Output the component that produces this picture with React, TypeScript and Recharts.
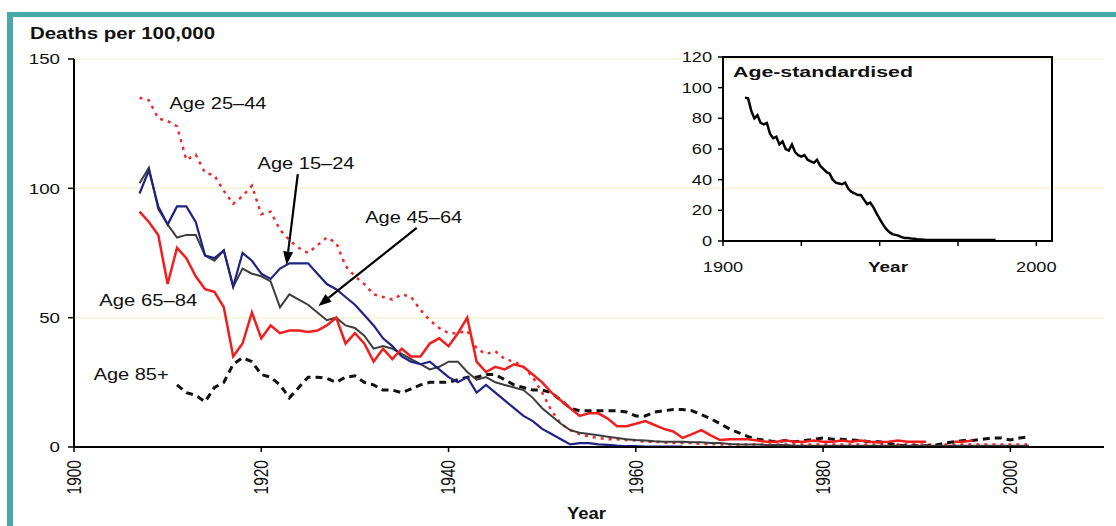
import React from "react";
import {
  LineChart,
  Line,
  XAxis,
  YAxis,
  CartesianGrid,
  ReferenceLine,
  ReferenceDot,
  ReferenceArea,
} from "recharts";

const FONT = '"Liberation Sans", Arial, sans-serif';
const TEAL = "#4aa8a8";

// main chart: yearly rates, 1907-2002
const START_YEAR = 1907;

const age15_24 = [
  98, 107, 93, 86, 93, 93, 87, 74, 73, 76,
  62, 75, 72, 67, 65, 69, 71, 71, 71, 67,
  63, 61, 58, 55, 51, 47, 42, 39, 35, 33,
  32, 33, 30, 27, 25, 27, 21, 24, 21, 18,
  15, 12, 10, 7, 5, 3, 1, 1.5, 1.5, 1,
  0.8, 0.5, 0.3, 0.3, 0.2, 0.2, 0.2, 0.2, 0.2, null,
  null, null, null, null, null, null, null, null, null, null,
  null, null, null, null, null, null, null, null, null, null,
  null, null, null, null, null, null, null, null, null, null,
  null, null, null, null, null, null,
];

const age25_44 = [
  135, 134, 127, 126, 124, 111, 113, 106, 105, 99,
  94, 97, 101, 90, 91, 84, 80, 77, 75, 78,
  81, 79, 70, 66, 63, 59, 58, 57, 59, 58,
  53, 49, 46, 44, 44, 45, 38, 36, 37, 34,
  33, 31, 27, 21, 14, 9, 6.5, 5, 4, 3.5,
  3, 3, 2.7, 2.5, 2, 2, 1.8, 1.5, 1.5, 1.5,
  1.2, 1.2, 1, 1, 1, 1, 1, 1, 1, 1,
  1, 1, 1, 1, 1, 1, 1, 1, 1, 1,
  1, 1, 1, 1, 1, 1, 1, 1, 1, 1,
  1, 1, 1, 1, 1, 1,
];

const age45_64 = [
  102, 108, 92, 86, 81, 82, 82, 74, 72, 76,
  62, 69, 67, 66, 64, 54, 59, 57, 55, 52,
  49, 50, 47, 46, 43, 38, 39, 38, 36, 34,
  32, 30, 31, 33, 33, 29, 26, 27, 25, 24,
  23, 22, 19, 15, 12, 9, 6.5, 5.5, 5, 4.5,
  4, 3.5, 3, 2.7, 2.5, 2.2, 2, 2, 2, 1.8,
  1.8, 1.5, 1.5, 1.2, 1, 1, 1, 0.8, 0.8, 0.8,
  0.5, 0.5, 0.5, 0.5, 0.5, 0.5, 0.5, 0.5, 0.5, 0.5,
  0.5, 0.5, 0.5, 0.5, 0.5, 0.5, 0.5, 0.5, 0.5, 0.5,
  0.5, 0.5, 0.5, 0.5, 0.5, 0.5,
];

const age65_84 = [
  91, 87, 82, 63, 77, 73, 66, 61, 60, 54,
  35, 40, 52, 42, 47, 44, 45, 45, 44.5, 45,
  47, 50, 40, 44, 40, 33, 38, 34, 38, 35,
  35, 40, 42, 39, 44, 50, 33, 29, 31, 30,
  32, 31, 28, 25, 21, 18, 15, 12, 13, 13,
  11, 8, 8, 9, 10, 8.5, 7, 6, 3.5, 5,
  6.5, 4.5, 2.7, 3, 3, 3, 2.5, 2, 2, 2.5,
  2, 2, 2.5, 2, 2, 2.5, 2, 2.5, 2, 1.8,
  2, 2.5, 2, 2, 2, null, null, 2, 2, 2.5,
  null, null, null, null, null, null,
];

const age85plus = [
  null, null, null, null, 24, 21, 20, 17.5, 23, 25,
  32, 34.5, 33, 28, 27, 24, 19, 23, 27, 27,
  26.5, 25, 27, 27.5, 25, 24, 22, 22, 21, 22.5,
  24, 25, 25, 25, 26, 27, 27, 28, 28, 26,
  24, 23, 22, 22, 21, 18, 15, 14, 14, 14,
  14, 14, 13.5, 12, 12, 13.5, 14, 14.5, 14.5, 14,
  12.5, 11, 9, 7, 5.5, 4, 3, 2.5, 2, 2.5,
  2, 2.5, 3, 3.5, 3, 3, 2.7, 2.5, 2, 2,
  1.5, 0.7, 0.5, 0.5, 0.5, 0.7, 1.5, 2, 2.5, 2.5,
  3, 3.5, 3.5, 2.7, 3.5, 4,
];

const mainYears = age15_24.map((_, i) => START_YEAR + i);
const mainData = mainYears.map((year, i) => ({
  year,
  a15: age15_24[i],
  a25: age25_44[i],
  a45: age45_64[i],
  a65: age65_84[i],
  a85: age85plus[i],
}));

const MAIN_X_TICKS = [1900, 1920, 1940, 1960, 1980, 2000];
const MAIN_Y_TICKS = [0, 50, 100, 150];

// inset: age-standardised, 1907-1987
const INSET_START = 1907;
const ageStandardised = [
  93.5, 93, 85, 80, 82, 77, 76, 77, 70, 67,
  68, 63, 65, 60, 59, 63, 58, 56, 55, 56,
  53, 52, 51, 53, 49, 47, 45, 44, 40, 38,
  37.5, 37, 38, 34, 32, 31, 30, 30, 27, 24,
  25, 22, 18, 14.5, 11, 8, 6, 4.5, 4, 3.5,
  2.5, 2, 2, 1.7, 1.5, 1.2, 1, 0.8, 0.6, 0.6,
  0.6, 0.6, 0.6, 0.6, 0.6, 0.6, 0.6, 0.6, 0.6, 0.6,
  0.6, 0.6, 0.6, 0.6, 0.6, 0.6, 0.6, 0.6, 0.6, 0.6,
  0.6,
];
const insetData = ageStandardised.map((v, i) => ({ year: INSET_START + i, v }));
const INSET_X_TICKS = [1900, 1925, 1950, 1975, 2000];
const INSET_X_LABELS = [1900, 2000];
const INSET_Y_TICKS = [0, 20, 40, 60, 80, 100, 120];

// series labels and arrows (data coordinates)
const LABELS = [
  { text: "Age 25\u201344", x: 1910.2, y: 133, w: 97 },
  { text: "Age 15\u201324", x: 1919.6, y: 109.8, w: 97 },
  { text: "Age 45\u201364", x: 1931.1, y: 88.9, w: 97 },
  { text: "Age 65\u201384", x: 1902.7, y: 56.8, w: 98 },
  { text: "Age 85+", x: 1902.1, y: 28.2, w: 75 },
];
const ARROWS = [
  { from: { x: 1923.9, y: 105.5 }, to: { x: 1922.7, y: 70.5 } },
  { from: { x: 1936.6, y: 84.7 }, to: { x: 1926.1, y: 54.5 } },
];

const MainYTick = ({ x, y, payload }: any) => (
  <text
    transform={`translate(${x},${y}) scale(1.25,1)`}
    textAnchor="end"
    dy="0.35em"
    fontSize={15}
    fontFamily={FONT}
    fill="#111"
  >
    {payload.value}
  </text>
);

const MainXTick = ({ x, y, payload }: any) => (
  <text
    transform={`translate(${x},${y}) scale(1.25,1) rotate(-90)`}
    textAnchor="end"
    dy="0.35em"
    fontSize={15.5}
    fontFamily={FONT}
    fill="#111"
  >
    {payload.value}
  </text>
);

const InsetYTick = ({ x, y, payload }: any) => (
  <text
    transform={`translate(${x},${y}) scale(1.3,1)`}
    textAnchor="end"
    dy="0.35em"
    fontSize={14}
    fontFamily={FONT}
    fill="#111"
  >
    {payload.value}
  </text>
);

const InsetXTick = ({ x, y, payload }: any) =>
  INSET_X_LABELS.includes(payload.value) ? (
    <text
      transform={`translate(${x},${y}) scale(1.3,1)`}
      textAnchor="middle"
      dy="0.35em"
      fontSize={14}
      fontFamily={FONT}
      fill="#111"
    >
      {payload.value}
    </text>
  ) : null;

const Arrow = (p: any) => {
  const { x1, y1, x2, y2 } = p;
  const ang = Math.atan2(y2 - y1, x2 - x1);
  const len = 13;
  const half = 5;
  const bx = x2 - len * Math.cos(ang);
  const by = y2 - len * Math.sin(ang);
  const sx = half * Math.sin(ang);
  const sy = half * Math.cos(ang);
  return (
    <g>
      <line x1={x1} y1={y1} x2={bx} y2={by} stroke="#000" strokeWidth={2.2} />
      <polygon
        points={`${x2},${y2} ${bx + sx},${by - sy} ${bx - sx},${by + sy}`}
        fill="#000"
      />
    </g>
  );
};

const labelShape = (text: string, w: number) => (p: any) => (
  <text
    x={p.cx}
    y={p.cy}
    dy="0.35em"
    fontSize={16}
    fontFamily={FONT}
    fill="#111"
    textLength={w}
    lengthAdjust="spacingAndGlyphs"
  >
    {text}
  </text>
);

export default function App() {
  return (
    <div
      style={{
        position: "absolute",
        left: 0,
        top: 0,
        width: 1116,
        height: 526,
        background: "#fff",
        overflow: "hidden",
        fontFamily: FONT,
      }}
    >
      <div
        style={{
          position: "absolute",
          left: 7,
          top: 12,
          width: 1109,
          height: 514,
          borderLeft: `6px solid ${TEAL}`,
          borderTop: `5px solid ${TEAL}`,
          boxSizing: "border-box",
        }}
      />

      <div style={{ position: "absolute", left: 0, top: 0 }}>
        <LineChart
          width={1116}
          height={526}
          data={mainData}
          margin={{ top: 59, right: 12, bottom: 29, left: 34 }}
        >
          <CartesianGrid vertical={false} stroke="#f6f3d6" strokeWidth={1.5} />
          <XAxis
            dataKey="year"
            type="number"
            domain={[1900, 2010]}
            ticks={MAIN_X_TICKS}
            height={50}
            tickSize={5}
            tickMargin={8}
            axisLine={{ stroke: "#000", strokeWidth: 2 }}
            tickLine={{ stroke: "#000", strokeWidth: 1.5 }}
            tick={<MainXTick />}
            interval={0}
          />
          <YAxis
            type="number"
            domain={[0, 150]}
            ticks={MAIN_Y_TICKS}
            width={40}
            tickSize={6}
            tickMargin={8}
            axisLine={{ stroke: "#000", strokeWidth: 2 }}
            tickLine={{ stroke: "#000", strokeWidth: 1.5 }}
            tick={<MainYTick />}
            interval={0}
          />
          <Line
            dataKey="a25"
            stroke="#ec2a2a"
            strokeWidth={2.5}
            strokeDasharray="3 5"
            dot={false}
            connectNulls={false}
            isAnimationActive={false}
            type="linear"
          />
          <Line
            dataKey="a85"
            stroke="#111"
            strokeWidth={3}
            strokeDasharray="7 5"
            dot={false}
            connectNulls={false}
            isAnimationActive={false}
            type="linear"
          />
          <Line
            dataKey="a45"
            stroke="#3d3d3d"
            strokeWidth={2}
            dot={false}
            connectNulls={false}
            isAnimationActive={false}
            type="linear"
          />
          <Line
            dataKey="a15"
            stroke="#1f2382"
            strokeWidth={2.2}
            dot={false}
            connectNulls={false}
            isAnimationActive={false}
            type="linear"
          />
          <Line
            dataKey="a65"
            stroke="#f01e1e"
            strokeWidth={2.5}
            dot={false}
            connectNulls={false}
            isAnimationActive={false}
            type="linear"
          />
          {ARROWS.map((a, i) => (
            <ReferenceLine
              key={`arrow-${i}`}
              segment={[a.from, a.to]}
              shape={Arrow}
              ifOverflow="visible"
            />
          ))}
          {LABELS.map((l) => (
            <ReferenceDot
              key={l.text}
              x={l.x}
              y={l.y}
              r={0}
              ifOverflow="visible"
              shape={labelShape(l.text, l.w)}
            />
          ))}
        </LineChart>
      </div>

      <div style={{ position: "absolute", left: 660, top: 40 }}>
        <LineChart
          width={420}
          height={250}
          data={insetData}
          margin={{ top: 17, right: 28, bottom: 19, left: 20 }}
        >
          <XAxis
            dataKey="year"
            type="number"
            domain={[1900, 2005]}
            ticks={INSET_X_TICKS}
            height={30}
            tickSize={5}
            tickMargin={21}
            axisLine={{ stroke: "#000", strokeWidth: 2 }}
            tickLine={{ stroke: "#000", strokeWidth: 1.5 }}
            tick={<InsetXTick />}
            interval={0}
          />
          <YAxis
            type="number"
            domain={[0, 120]}
            ticks={INSET_Y_TICKS}
            width={43}
            tickSize={5}
            tickMargin={6}
            axisLine={{ stroke: "#000", strokeWidth: 2 }}
            tickLine={{ stroke: "#000", strokeWidth: 1.5 }}
            tick={<InsetYTick />}
            interval={0}
          />
          <ReferenceArea
            x1={1900}
            x2={2005}
            y1={0}
            y2={120}
            fill="none"
            fillOpacity={0}
            stroke="#000"
            strokeWidth={2}
            ifOverflow="visible"
          />
          <Line
            dataKey="v"
            stroke="#000"
            strokeWidth={2.5}
            dot={false}
            isAnimationActive={false}
            type="linear"
          />
        </LineChart>
      </div>

      <svg
        width={1116}
        height={526}
        style={{ position: "absolute", left: 0, top: 0, pointerEvents: "none" }}
      >
        <text
          x={30}
          y={33}
          dy="0.35em"
          fontSize={16}
          fontWeight="bold"
          fontFamily={FONT}
          fill="#111"
          textLength={185}
          lengthAdjust="spacingAndGlyphs"
        >
          Deaths per 100,000
        </text>
        <text
          x={567}
          y={513}
          dy="0.35em"
          fontSize={16}
          fontWeight="bold"
          fontFamily={FONT}
          fill="#111"
          textLength={39}
          lengthAdjust="spacingAndGlyphs"
        >
          Year
        </text>
        <text
          x={868}
          y={267}
          dy="0.35em"
          fontSize={15}
          fontWeight="bold"
          fontFamily={FONT}
          fill="#111"
          textLength={40}
          lengthAdjust="spacingAndGlyphs"
        >
          Year
        </text>
        <text
          x={733}
          y={72}
          dy="0.35em"
          fontSize={15.5}
          fontWeight="bold"
          fontFamily={FONT}
          fill="#111"
          textLength={180}
          lengthAdjust="spacingAndGlyphs"
        >
          Age-standardised
        </text>
      </svg>
    </div>
  );
}
